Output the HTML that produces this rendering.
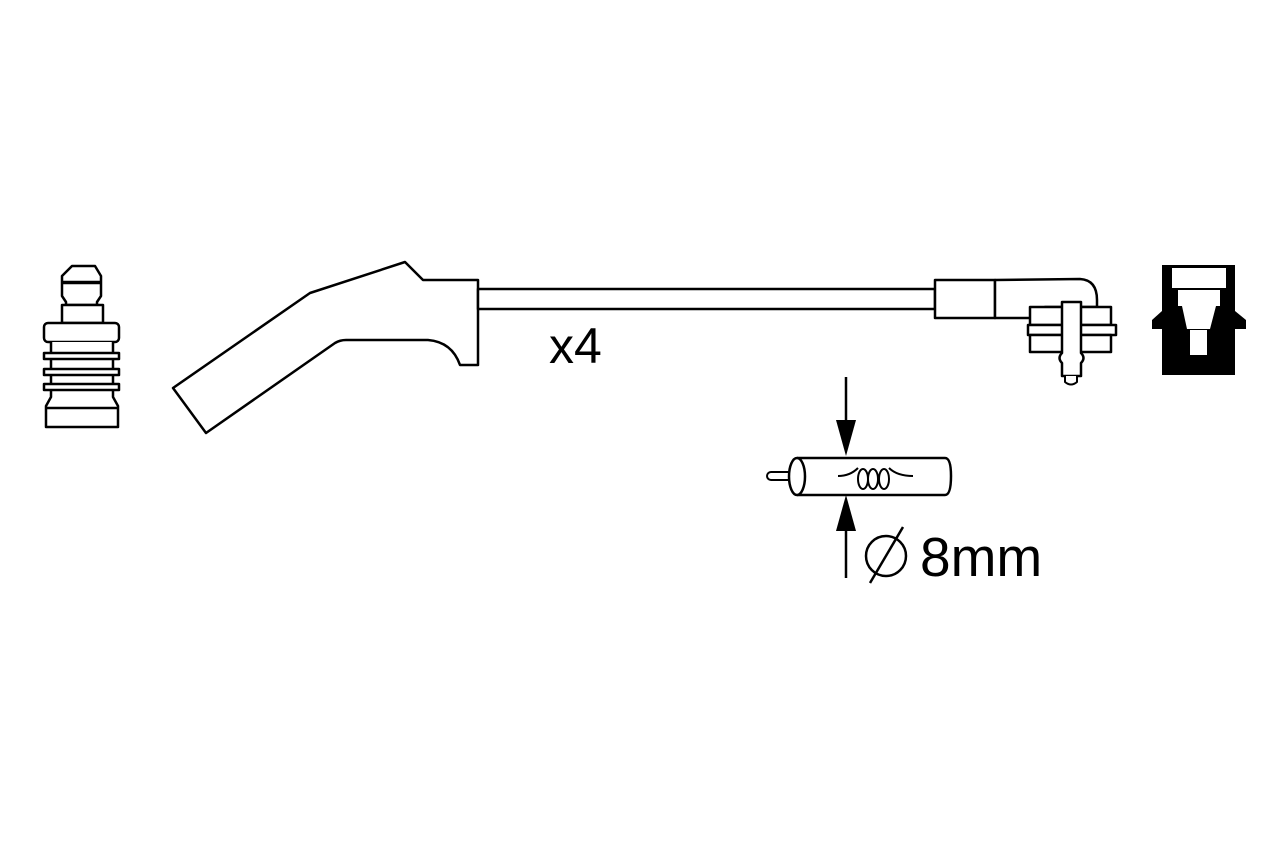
<!DOCTYPE html>
<html><head><meta charset="utf-8"><style>
html,body{margin:0;padding:0;background:#fff;width:1280px;height:853px;overflow:hidden}
svg{display:block}
text{font-family:"Liberation Sans",sans-serif;fill:#000}
</style></head><body>
<svg width="1280" height="853" viewBox="0 0 1280 853" fill="none" stroke="#000" stroke-width="2.5" stroke-linejoin="round">
<!-- spark plug terminal -->
<path d="M72,266 L95,266 L101,276 L101,296 L97,302 L97,305 L66,305 L66,302 L62,296 L62,276 Z" fill="#fff"/>
<line x1="62" y1="282" x2="101" y2="282"/>
<line x1="62" y1="283" x2="101" y2="283"/>
<rect x="62" y="305" width="41" height="18" fill="#fff"/>
<rect x="44" y="323" width="75" height="19" rx="4" fill="#fff"/>
<path d="M51,342 L51,397 L46,406 L46,427 L118,427 L118,406 L113,397 L113,342" fill="#fff"/>
<line x1="46" y1="408" x2="118" y2="408"/>
<rect x="44" y="353" width="75" height="6" fill="#fff"/>
<rect x="44" y="369" width="75" height="6" fill="#fff"/>
<rect x="44" y="384" width="75" height="6" fill="#fff"/>
<!-- boot -->
<path d="M173,388 L206,433 L335,343 Q340,340 346,340 L428,340 Q452,342 460,365 L478,365 L478,280 L423,280 L405,262 L310,293 Z" fill="#fff"/>
<!-- cable -->
<rect x="478" y="289" width="457" height="20" fill="#fff"/>
<!-- right angle connector -->
<rect x="935" y="280" width="60" height="38" fill="#fff"/>
<path d="M995,280 L1080,279 Q1097,280 1097,300 L1097,307 L1045,307 Q1040,318 1030,318 L995,318 Z" fill="#fff"/>
<rect x="1030" y="307" width="81" height="18" fill="#fff"/>
<rect x="1028" y="325" width="88" height="10" fill="#fff"/>
<rect x="1030" y="335" width="81" height="17" fill="#fff"/>
<path d="M1062,302 L1081,302 L1081,353 Q1086,358 1081,363 L1081,376 L1062,376 L1062,363 Q1057,358 1062,353 Z" fill="#fff"/>
<path d="M1065,376 L1065,382 Q1071,387 1077,382 L1077,376" fill="#fff" stroke-width="2"/>
<!-- black connector -->
<path d="M1162,265 L1235,265 L1235,311 L1246,320 L1246,329 L1235,329 L1235,375 L1162,375 L1162,329 L1152,329 L1152,320 L1162,311 Z" fill="#000" stroke="none"/>
<rect x="1172" y="268" width="54" height="20" fill="#fff" stroke="none"/>
<rect x="1178" y="290" width="42" height="16" fill="#fff" stroke="none"/>
<path d="M1182,306 L1216,306 L1210,329 L1187,329 Z" fill="#fff" stroke="none"/>
<rect x="1190" y="330" width="17" height="25" fill="#fff" stroke="none"/>
<!-- cable section -->
<line x1="846" y1="377" x2="846" y2="420"/>
<path d="M836,420 L856,420 L846,456 Z" fill="#000" stroke="none"/>
<line x1="846" y1="530" x2="846" y2="578"/>
<path d="M836,531 L856,531 L846,495 Z" fill="#000" stroke="none"/>
<rect x="767" y="472" width="30" height="8" rx="4" fill="#fff" stroke-width="2"/>
<path d="M797,458 L945,458 Q951,458 951,476 Q951,495 945,495 L797,495" fill="#fff"/>
<ellipse cx="797" cy="476.5" rx="8" ry="18.5" fill="#fff"/>
<path d="M838,476 Q850,476 858,468 M889,468 Q897,476 913,476" stroke-width="2"/>
<ellipse cx="863" cy="479" rx="5" ry="10" stroke-width="2"/>
<ellipse cx="873" cy="479" rx="5" ry="10" stroke-width="2"/>
<ellipse cx="884" cy="479" rx="5" ry="10" stroke-width="2"/>
<circle cx="886" cy="556" r="20" stroke-width="2.5"/>
<line x1="870" y1="583" x2="903" y2="527" stroke-width="2.5"/>
<text x="920" y="576" font-size="55" stroke="none">8mm</text>
<text x="549" y="363" font-size="50" stroke="none">x4</text>
</svg>
</body></html>
